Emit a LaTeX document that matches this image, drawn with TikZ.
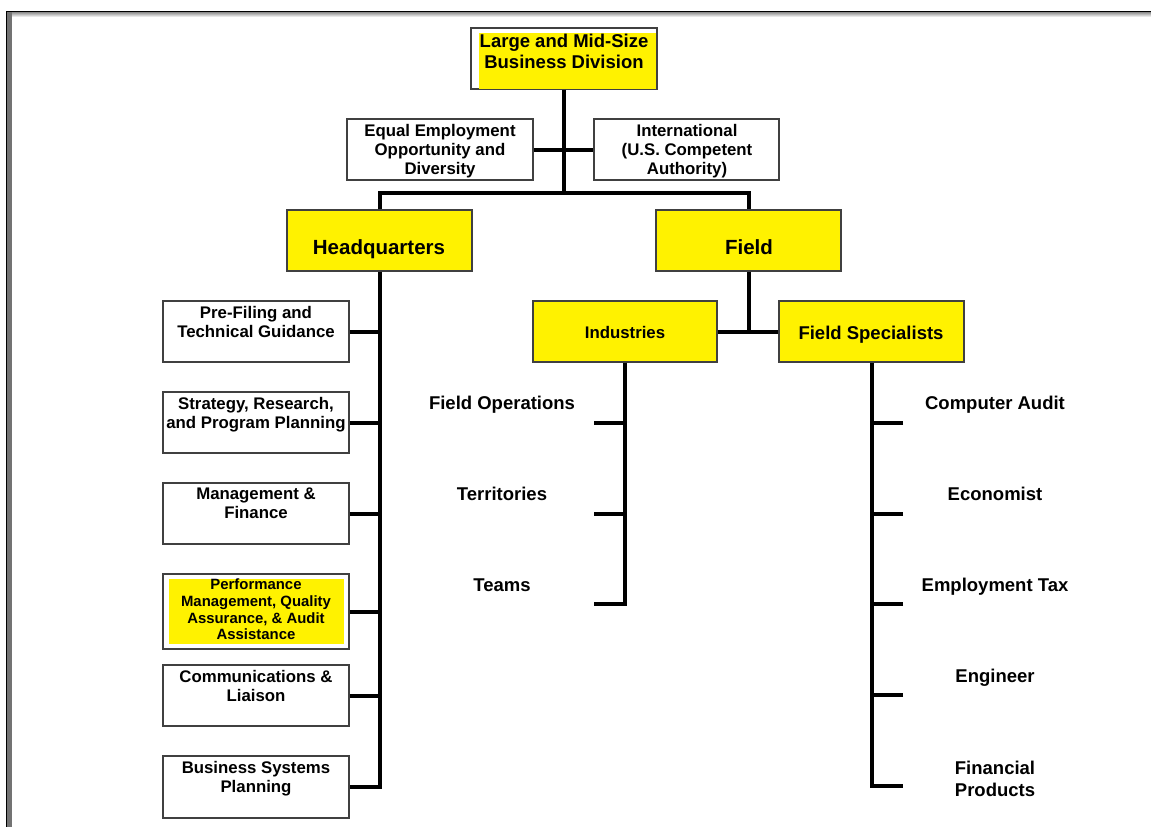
\documentclass[tikz,border=0pt]{standalone}
\usepackage{fontspec}
\setmainfont{Liberation Sans}
\usetikzlibrary{calc}
\tikzset{
  box/.style={draw=black!75, line width=1.3pt, fill=white, minimum width=185pt, minimum height=61pt, inner sep=0pt},
  ybox/.style={box, fill=yellow},
  conn/.style={line width=4pt, black, line join=miter},
  txt/.style={inner sep=0pt, align=center, font=\bfseries\fontsize{16.8}{19}\selectfont},
  bigtxt/.style={inner sep=0pt, align=center, font=\bfseries\fontsize{18.5}{21}\selectfont},
  hdtxt/.style={inner sep=0pt, align=center, font=\bfseries\fontsize{20.5}{22}\selectfont},
  smtxt/.style={inner sep=0pt, align=center, font=\bfseries\fontsize{14.9}{16.7}\selectfont},
  lbl/.style={inner sep=0pt, align=center, anchor=base, font=\bfseries\fontsize{18.5}{22}\selectfont},
}
\begin{document}
\begin{tikzpicture}[x=1pt,y=-1pt]
\useasboundingbox (0,0) rectangle (1151,827);
% page frame
\shade[top color=black!45, bottom color=white] (6,12) rectangle (1151,17);
\fill[black!55] (7,11) rectangle (12,827);
\draw[line width=1.2pt] (6.5,827) -- (6.5,11.5) -- (1151,11.5);

% boxes
\node[box] (top) at (564,58.5) {};
\fill[yellow] (479,33) rectangle (656,88.5);
\draw[draw=black!75, line width=1.3pt] (top.south west) rectangle (top.north east);
\node[box, minimum width=186pt] (eeo) at (440,149.5) {};
\node[box] (intl) at (686.5,149.5) {};
\node[ybox] (hq) at (379.5,240.5) {};
\node[ybox] (field) at (748.5,240.5) {};
\node[ybox, minimum width=184pt] (ind) at (625,331.5) {};
\node[ybox] (fs) at (871.5,331.5) {};
\node[box, minimum width=186pt] (pf) at (256,331.5) {};
\node[box, minimum width=186pt] (srp) at (256,422.5) {};
\node[box, minimum width=186pt] (mf) at (256,513.5) {};
\node[box, minimum width=186pt, minimum height=75pt] (pm) at (256,611.5) {};
\fill[yellow] (169,579) rectangle (344,644);
\node[box, minimum width=186pt] (cl) at (256,695.5) {};
\node[box, minimum width=186pt, minimum height=62pt] (bsp) at (256,787) {};

% texts
\node[bigtxt, anchor=north] (topt) at (564,33.4) {Large and Mid-Size\\Business Division};
\node[txt, anchor=north] (eeot) at (440,124) {Equal Employment\\Opportunity and\\Diversity};
\node[txt, anchor=north] (intlt) at (687,124) {International\\(U.S. Competent\\Authority)};
\node[hdtxt, anchor=base] (hqt) at (379,254.3) {Headquarters};
\node[hdtxt, anchor=base] (fieldt) at (749,254.3) {Field};
\node[txt, anchor=base] (indt) at (625,338) {Industries};
\node[bigtxt, anchor=base] (fst) at (871,339.6) {Field Specialists};
\node[txt, anchor=north] (pft) at (256,306) {Pre-Filing and\\Technical Guidance};
\node[txt, anchor=north] (srpt) at (256,397) {Strategy, Research,\\and Program Planning};
\node[txt, anchor=north] (mft) at (256,488) {Management \&\\Finance};
\node[smtxt, anchor=north] (pmt) at (256,578.6) {Performance\\Management, Quality\\Assurance, \& Audit\\Assistance};
\node[txt, anchor=north] (clt) at (256,670) {Communications \&\\Liaison};
\node[txt, anchor=north] (bspt) at (256,761) {Business Systems\\Planning};

\node[lbl] (fo) at (502,409.6) {Field Operations};
\node[lbl] (terr) at (502,500.6) {Territories};
\node[lbl] (teams) at (502,591.6) {Teams};
\node[lbl] (ca) at (995,409.6) {Computer Audit};
\node[lbl] (econ) at (995,500.6) {Economist};
\node[lbl] (et) at (995,591.6) {Employment Tax};
\node[lbl] (eng) at (995,682.6) {Engineer};
\node[lbl, anchor=north] (fp) at (995,760.4) {Financial\\Products};

% junction coordinates
\coordinate (j1) at (564,193);
\coordinate (fj) at (748.5,331.5);
\coordinate (i1) at (594,423);
\coordinate (i2) at (594,514);
\coordinate (i3) at (594,604);
\coordinate (s1) at (903,423);
\coordinate (s2) at (903,514);
\coordinate (s3) at (903,604);
\coordinate (s4) at (903,695);
\coordinate (s5) at (903,786);

% connectors
\draw[conn] (top.south) -- (j1);
\draw[conn] (eeo.east) -- (intl.west);
\draw[conn] (hq.north) |- (j1) -| (field.north);
\draw[conn] (field.south) -- (fj);
\draw[conn] (ind.east) -- (fs.west);
% headquarters trunk
\draw[conn] (hq.south) |- (bsp.east);
\foreach \b in {pf,srp,mf,pm,cl}
  \draw[conn] (\b.east) -- (\b.east -| hq.south);
% industries trunk
\draw[conn] (ind.south) |- (i3);
\draw[conn] (i1) -- (i1 -| ind.south);
\draw[conn] (i2) -- (i2 -| ind.south);
% field specialists trunk
\draw[conn] (fs.south) |- (s5);
\foreach \c in {s1,s2,s3,s4}
  \draw[conn] (\c) -- (\c -| fs.south);
\end{tikzpicture}
\end{document}
